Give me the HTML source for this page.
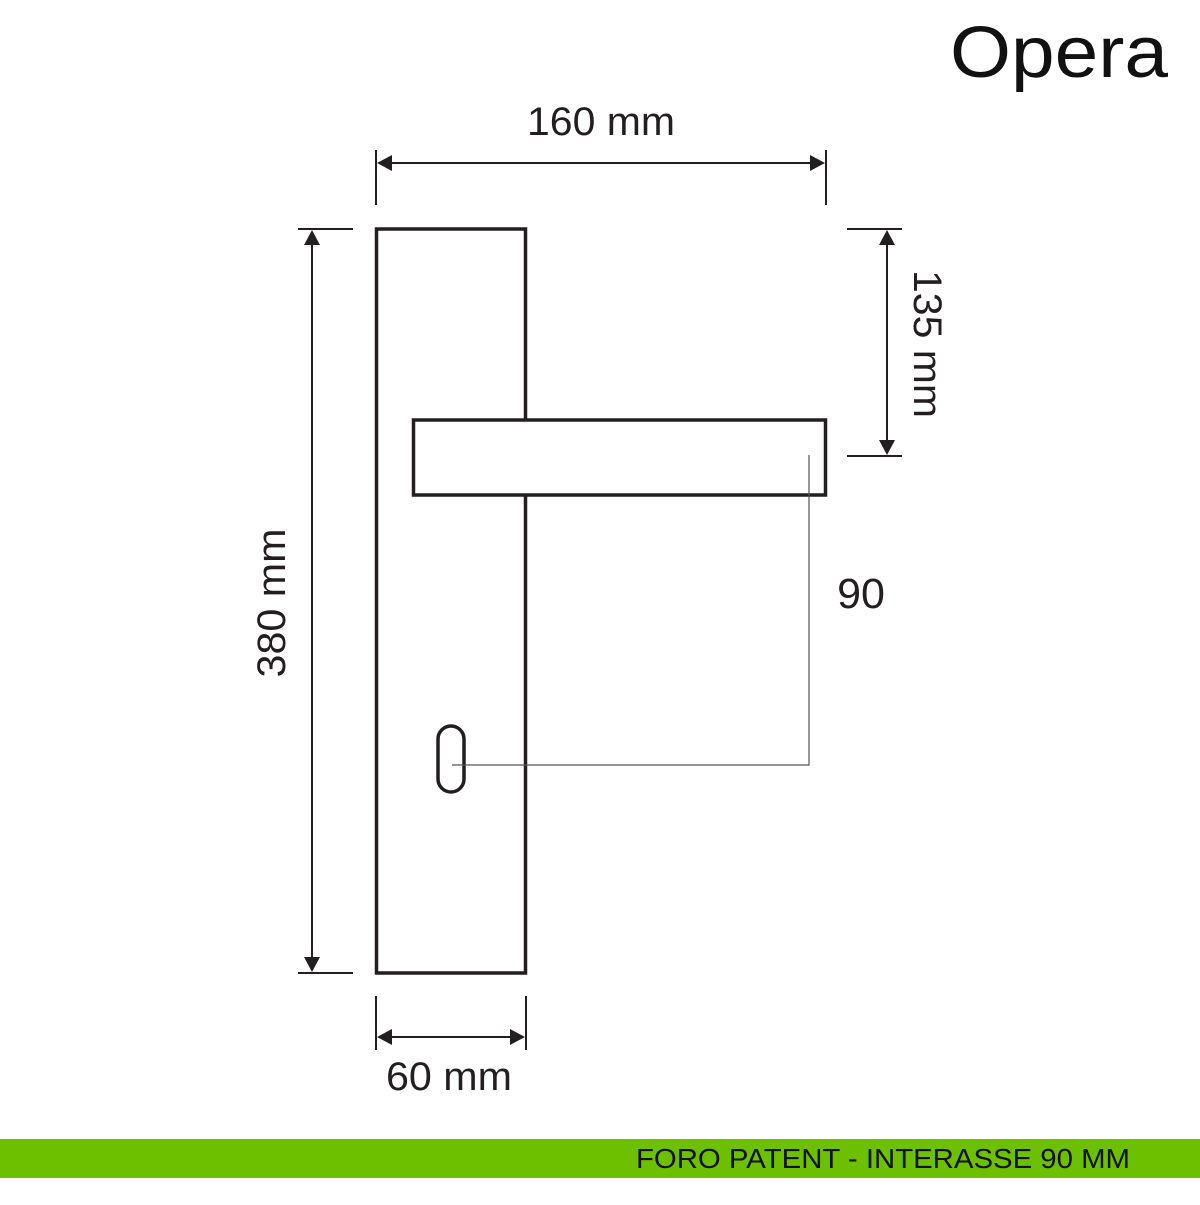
<!DOCTYPE html>
<html><head><meta charset="utf-8"><style>
html,body{margin:0;padding:0;background:#fff;}
</style></head><body>
<svg width="1200" height="1200" viewBox="0 0 1200 1200" xmlns="http://www.w3.org/2000/svg" font-family="Liberation Sans, sans-serif">
<rect width="1200" height="1200" fill="#fff"/>
<text x="950" y="77" font-size="72" fill="#111" textLength="218" lengthAdjust="spacingAndGlyphs">Opera</text>
<rect x="376.5" y="229" width="149" height="744" fill="none" stroke="#231f20" stroke-width="3.5"/>
<rect x="413.5" y="420" width="412" height="75" fill="#fff" stroke="#231f20" stroke-width="3.5"/>
<rect x="438" y="726" width="26" height="66" rx="13" fill="none" stroke="#231f20" stroke-width="3.5"/>
<polyline points="452,765 809,765 809,455" fill="none" stroke="#555" stroke-width="1.2"/>
<g stroke="#231f20" stroke-width="2" fill="#231f20">
<line x1="376" y1="150" x2="376" y2="205"/>
<line x1="826" y1="150" x2="826" y2="205"/>
<line x1="380" y1="163" x2="822" y2="163"/>
<polygon points="377,163 392,155 392,171" stroke="none"/>
<polygon points="825,163 810,155 810,171" stroke="none"/>
<line x1="298" y1="229" x2="353" y2="229"/>
<line x1="298" y1="973" x2="353" y2="973"/>
<line x1="312" y1="232" x2="312" y2="970"/>
<polygon points="312,230 304,245 320,245" stroke="none"/>
<polygon points="312,972 304,957 320,957" stroke="none"/>
<line x1="847" y1="229" x2="902" y2="229"/>
<line x1="847" y1="456" x2="902" y2="456"/>
<line x1="887" y1="232" x2="887" y2="453"/>
<polygon points="887,230 879,245 895,245" stroke="none"/>
<polygon points="887,455 879,440 895,440" stroke="none"/>
<line x1="376" y1="996" x2="376" y2="1050"/>
<line x1="526" y1="996" x2="526" y2="1050"/>
<line x1="379" y1="1037" x2="523" y2="1037"/>
<polygon points="377,1037 392,1029 392,1045" stroke="none"/>
<polygon points="525,1037 510,1029 510,1045" stroke="none"/>
</g>
<g fill="#231f20" font-size="40">
<text x="601" y="135" text-anchor="middle" textLength="148" lengthAdjust="spacingAndGlyphs">160 mm</text>
<text x="449" y="1090" text-anchor="middle" textLength="126" lengthAdjust="spacingAndGlyphs">60 mm</text>
<text x="861" y="608" text-anchor="middle" font-size="43">90</text>
<text transform="translate(285,603) rotate(-90)" text-anchor="middle" textLength="149" lengthAdjust="spacingAndGlyphs">380 mm</text>
<text transform="translate(914,344) rotate(90)" text-anchor="middle" textLength="148" lengthAdjust="spacingAndGlyphs">135 mm</text>
</g>
<rect x="0" y="1139" width="1200" height="39" fill="#6cc000"/>
<text x="636" y="1168" font-size="28" fill="#111" textLength="494" lengthAdjust="spacingAndGlyphs">FORO PATENT - INTERASSE 90 MM</text>
</svg>
</body></html>
